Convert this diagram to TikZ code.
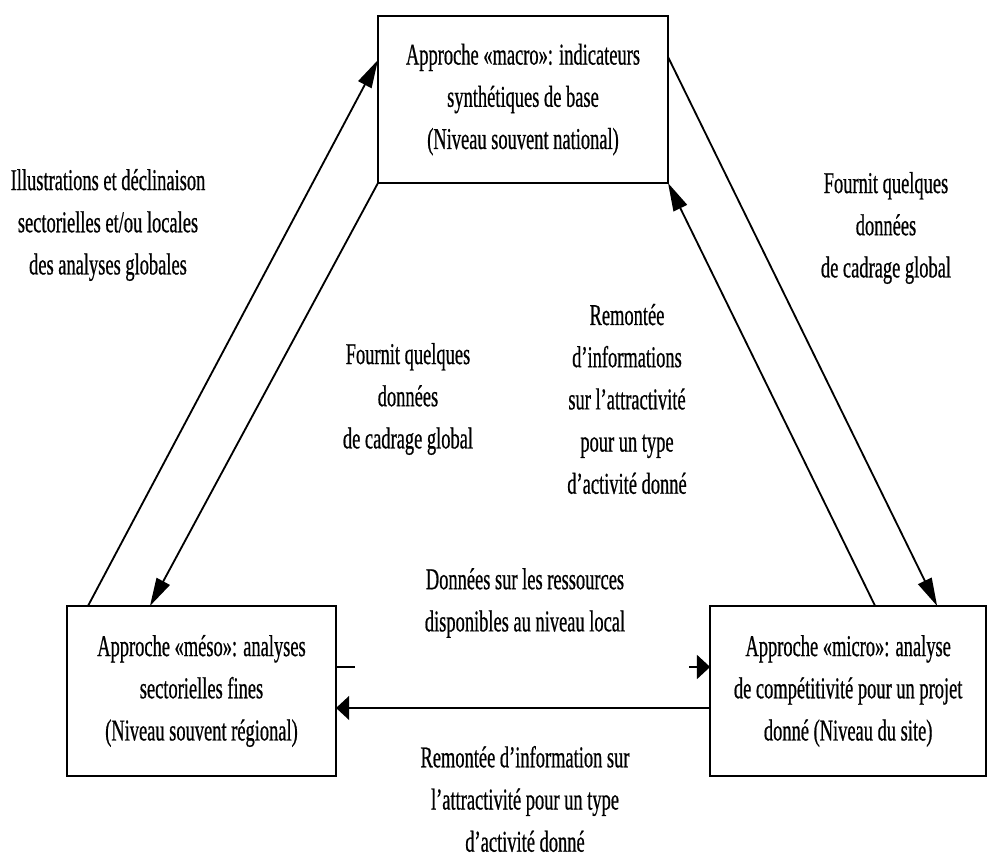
\documentclass[tikz,border=0pt]{standalone}
\usepackage{fontspec}
\setmainfont[FakeStretch=0.61, FakeBold=0.6]{Liberation Serif}
\usetikzlibrary{positioning,arrows.meta,calc}

\begin{document}
\begin{tikzpicture}[
  x=0.025cm, y=-0.025cm,
  font=\fontsize{21.5}{30}\selectfont,
  box/.style={draw, line width=1.2pt, align=center, inner sep=0pt, outer sep=0pt, minimum width=#1, minimum height=4.25cm},
  box/.default=6.8cm,
  lab/.style={align=center, inner sep=0pt},
  arr/.style={-{Triangle[length=7mm, width=3.7mm]}, line width=1.3pt},
  harr/.style={-{Triangle[length=3.3mm, width=6mm]}, line width=1.3pt}]
  \useasboundingbox (0,0) rectangle (987,862);
  % the three approaches
  \node[box=7.25cm, minimum height=4.175cm] (macro) at (523,99.5) {Approche «macro»: indicateurs\\synthétiques de base\\(Niveau souvent national)};
  \node[box=6.725cm] (meso) at (201.5,691) {Approche «méso»: analyses\\sectorielles fines\\(Niveau souvent régional)};
  \node[box=6.9cm, right=9.35cm of meso] (micro) {Approche «micro»: analyse\\de compétitivité pour un projet\\donné (Niveau du site)};
  % labels
  \node[lab] (illus) at (108,225) {Illustrations et déclinaison\\sectorielles et/ou locales\\des analyses globales};
  \node[lab] (cadrageR) at (886,228) {Fournit quelques\\données\\de cadrage global};
  \node[lab] (cadrageM) at (408,399) {Fournit quelques\\données\\de cadrage global};
  \node[lab] (remonteeM) at (627,399) {Remontée\\d’informations\\sur l’attractivité\\pour un type\\d’activité donné};
  \node[lab] (ressources) at (525,603) {Données sur les ressources\\disponibles au niveau local};
  \node[lab] (remonteeB) at (525,799) {Remontée d’information sur\\l’attractivité pour un type\\d’activité donné};
  % connectors
  \draw[arr] ($(meso.north west)+(21,0)$) -- ($(macro.north west)+(0,44)$);
  \draw[arr] (macro.south west) -- ($(meso.north west)+(83,0)$);
  \draw[arr] ($(macro.north east)+(0,41)$) -- ($(micro.north west)+(227,0)$);
  \draw[arr] ($(micro.north west)+(165,0)$) -- (macro.south east);
  \draw[harr, dash pattern=on 0.475cm off 8.35cm on 0.3cm] ($(meso.north east)+(0,61)$) -- ($(micro.north west)+(0,61)$);
  \draw[harr] ($(micro.north west)+(0,102)$) -- ($(meso.north east)+(0,102)$);
\end{tikzpicture}
\end{document}
